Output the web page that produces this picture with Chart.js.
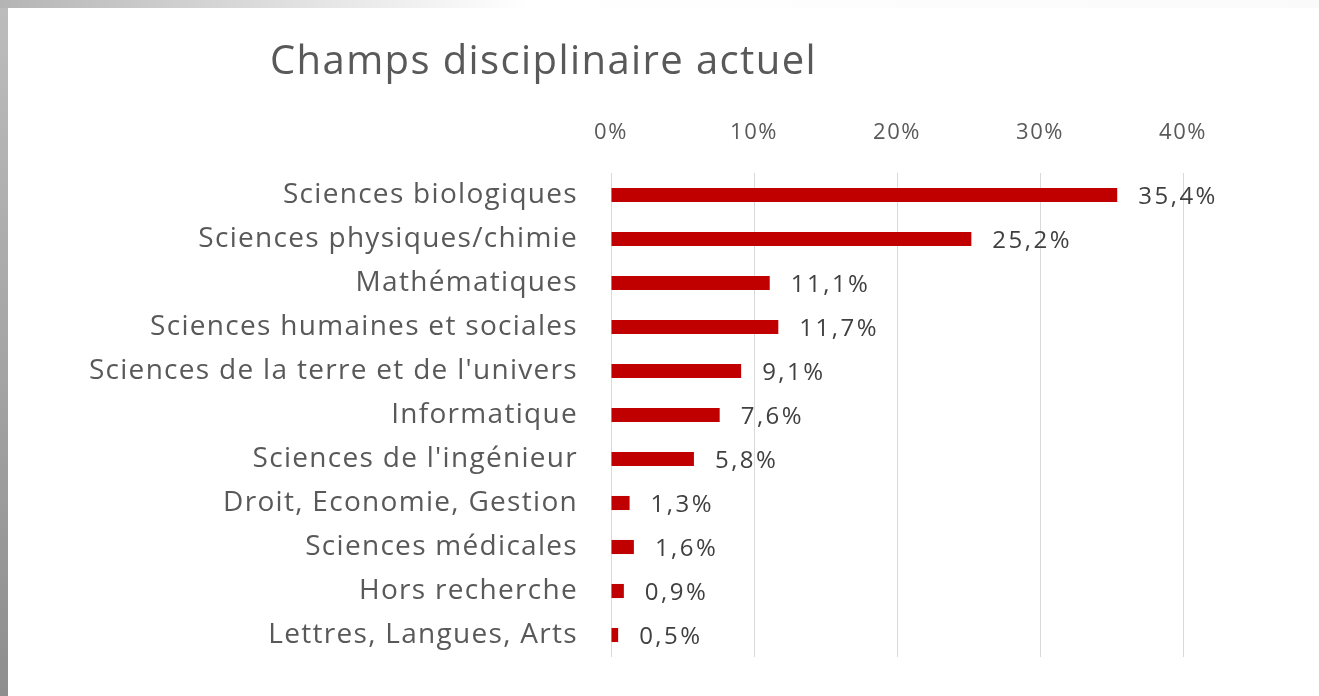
<!DOCTYPE html>
<html lang="fr">
<head>
<meta charset="utf-8">
<title>Champs disciplinaire actuel</title>
<script src="https://cdn.jsdelivr.net/npm/chart.js@4.4.1/dist/chart.umd.min.js"></script>
<style>
  html, body {
    margin: 0;
    padding: 0;
    background: #ffffff;
  }
  body {
    width: 1319px;
    height: 696px;
    position: relative;
    overflow: hidden;
  }
  .edge-left {
    position: absolute;
    left: 0;
    top: 0;
    width: 8px;
    height: 696px;
    background: linear-gradient(180deg, #bdbdbd, #8e8e8e);
  }
  .edge-top {
    position: absolute;
    left: 0;
    top: 0;
    width: 1319px;
    height: 8px;
    background: linear-gradient(90deg, #b4b4b4 0%, #e6e6e6 25%, #ffffff 40%, #fafafa 100%);
  }
  .title {
    position: absolute;
    left: 270px;
    top: 31px;
    font-family: "Open Sans", sans-serif;
    font-size: 40px;
    letter-spacing: 1.4px;
    color: #595959;
    white-space: nowrap;
  }
  .chart-box {
    position: absolute;
    left: 0;
    top: 0;
    width: 1319px;
    height: 696px;
  }
</style>
</head>
<body>
<div class="chart-box"><canvas id="disciplineChart" width="1319" height="696"></canvas></div>
<div class="edge-left"></div>
<div class="edge-top"></div>
<div class="title">Champs disciplinaire actuel</div>

<script>
// Data
const disciplines = [
  "Sciences biologiques",
  "Sciences physiques/chimie",
  "Mathématiques",
  "Sciences humaines et sociales",
  "Sciences de la terre et de l'univers",
  "Informatique",
  "Sciences de l'ingénieur",
  "Droit, Economie, Gestion",
  "Sciences médicales",
  "Hors recherche",
  "Lettres, Langues, Arts"
]
const shares = [35.4, 25.2, 11.1, 11.7, 9.1, 7.6, 5.8, 1.3, 1.6, 0.9, 0.5]
const axisTicks = [0, 10, 20, 30, 40]

const textGray = "#595959"
const barRed = "#c00000"

const formatPct = (v) => v.toFixed(1).replace(".", ",") + "%"

// The source text is loosely spaced, so wrap a scale's label drawing
// to add some letter spacing on the canvas
function spaceLabels(scale, spacing) {
  if (scale._spaced) return
  const orig = scale.drawLabels.bind(scale)
  scale.drawLabels = (area) => {
    scale.ctx.save()
    scale.ctx.letterSpacing = spacing
    orig(area)
    scale.ctx.restore()
  }
  scale._spaced = true
}

// Draws the value next to the end of each bar
const valueLabels = {
  id: "valueLabels",
  afterDatasetsDraw(chart) {
    const ctx = chart.ctx
    const meta = chart.getDatasetMeta(0)
    ctx.save()
    ctx.font = '24px "Open Sans", sans-serif'
    ctx.letterSpacing = "2.5px"
    ctx.fillStyle = "#404040"
    ctx.textAlign = "left"
    ctx.textBaseline = "middle"
    meta.data.forEach((bar, i) => {
      ctx.fillText(formatPct(shares[i]), bar.x + 21, bar.y + 2)
    })
    ctx.restore()
  }
}

const ctx = document.getElementById("disciplineChart").getContext("2d")
new Chart(ctx, {
  type: "bar",
  data: {
    labels: disciplines,
    datasets: [
      {
        data: shares,
        backgroundColor: barRed,
        borderWidth: 0,
        categoryPercentage: 1,
        barPercentage: 0.32
      }
    ]
  },
  options: {
    indexAxis: "y",
    responsive: false,
    animation: false,
    layout: {
      padding: { top: 113, right: 136, bottom: 39, left: 0 }
    },
    plugins: {
      legend: { display: false },
      tooltip: { enabled: false }
    },
    scales: {
      x: {
        position: "top",
        min: 0,
        max: 40,
        afterBuildTicks(scale) {
          scale.ticks = axisTicks.map((v) => ({ value: v }))
        },
        afterFit(scale) {
          scale.height = 60
          spaceLabels(scale, "1.5px")
        },
        grid: {
          color: "#d9d9d9",
          lineWidth: 1,
          drawTicks: false
        },
        border: { display: false },
        ticks: {
          padding: 27,
          color: textGray,
          font: { family: "Open Sans", size: 22 },
          callback: (v) => v + "%"
        }
      },
      y: {
        afterFit(scale) {
          scale.width = 611
          // big labels would otherwise shrink the plot area
          scale.paddingTop = 0
          scale.paddingBottom = 0
          spaceLabels(scale, "1.3px")
        },
        grid: { display: false, drawTicks: false },
        border: { display: false },
        ticks: {
          padding: 33,
          color: textGray,
          font: { family: "Open Sans", size: 28 }
        }
      }
    }
  },
  plugins: [valueLabels]
})
</script>
</body>
</html>
